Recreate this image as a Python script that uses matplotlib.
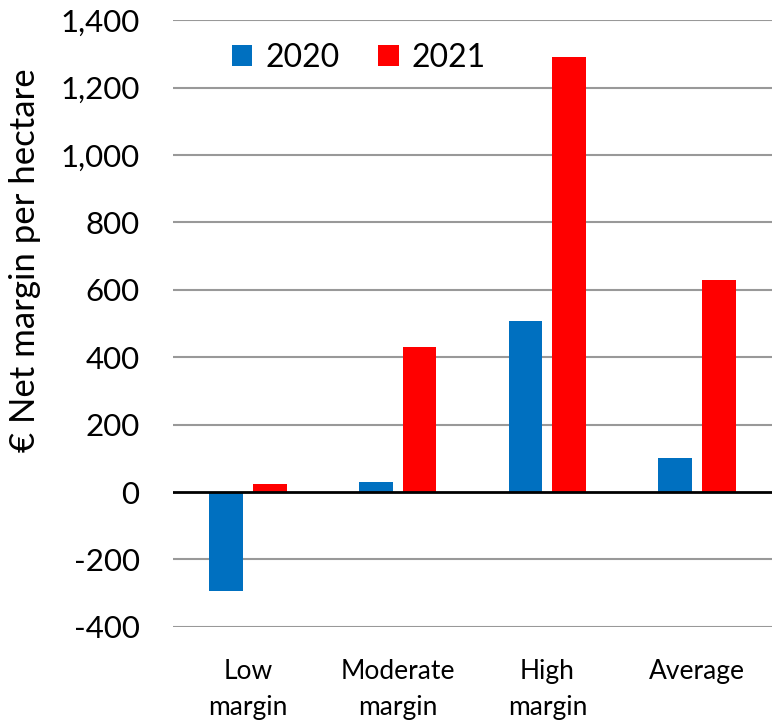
import numpy as np
import matplotlib.pyplot as plt

categories = ['Low\nmargin', 'Moderate\nmargin', 'High\nmargin', 'Average']
margin_2020 = [-295, 31, 508, 101]
margin_2021 = [24, 431, 1290, 629]
yticks = [-400, -200, 0, 200, 400, 600, 800, 1000, 1200, 1400]

plt.rcParams['font.family'] = ['Lato', 'DejaVu Sans']

fig = plt.figure(figsize=(7.72, 7.23), dpi=100)
ax = fig.add_axes([0.224, 0.133, 0.776, 0.839])

x = np.arange(len(categories))
w = 0.225
ax.bar(x - 0.146, margin_2020, w, color='#0070C0', label='2020', zorder=3)
ax.bar(x + 0.146, margin_2021, w, color='#FF0000', label='2021', zorder=3)

ax.set_xlim(-0.5, 3.5)
ax.set_ylim(-400, 1400)
ax.set_yticks(yticks)
ax.set_yticklabels([f'{v:,}' for v in yticks], fontsize=22.5)
ax.set_xticks(x)
ax.set_xticklabels(categories, fontsize=19, linespacing=1.55)
ax.tick_params(axis='y', length=0, pad=24)
ax.tick_params(axis='x', length=0, pad=23)

for v in yticks:
    if v != 0:
        ax.axhline(v, color='#999999', lw=1.5, zorder=1)
ax.axhline(0, color='black', lw=2, zorder=4)

for s in ax.spines.values():
    s.set_visible(False)

ax.set_ylabel('€ Net margin per hectare', fontsize=25)
ax.yaxis.set_label_coords(-0.22, 0.605)

ax.legend(loc='upper left', bbox_to_anchor=(0.05, 1.01), ncol=2, frameon=False,
          fontsize=23, handlelength=0.65, handleheight=0.65, handletextpad=0.4,
          columnspacing=1.2)

fig.savefig('out.png', dpi=100)
